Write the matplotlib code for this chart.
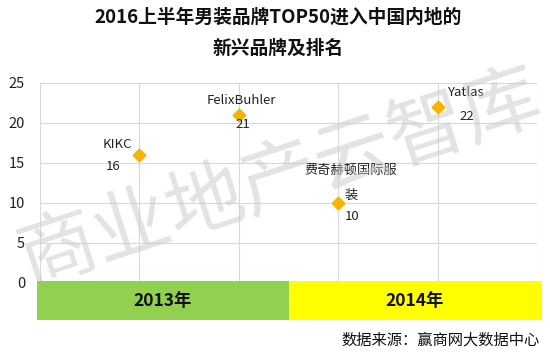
import matplotlib
matplotlib.use("Agg")
import matplotlib.pyplot as plt
from matplotlib.patches import Rectangle

plt.rcParams['font.family'] = ['Noto Sans CJK SC', 'DejaVu Sans']

brands = ["KIKC", "FelixBuhler", "费奇赫顿国际服\n装", "Yatlas"]
ranks = [16, 21, 10, 22]
xpos = [1, 2, 3, 4]
years = ["2013年", "2014年"]
yticks = [0, 5, 10, 15, 20, 25]

W, H = 550, 357
PT = 0.72  # points per pixel at dpi 100
fig = plt.figure(figsize=(W/100, H/100), dpi=100)
fig.patch.set_facecolor("white")

ax = fig.add_axes([40/W, 1-283/H, (537-40)/W, (283-83)/H])
ax.set_xlim(0, 5)
ax.set_ylim(0, 25)
ax.set_yticks(yticks)
ax.set_xticks(range(0, 6))
ax.set_xticklabels([])
ax.tick_params(axis='x', length=0)
ax.tick_params(axis='y', length=0, labelsize=10.5, pad=15*PT, colors='#222222')
for s in ax.spines.values():
    s.set_visible(False)
ax.grid(True, color='#d9d9d9', linewidth=0.8)
ax.set_axisbelow(True)

ax.scatter(xpos, ranks, marker='D', s=42, color='#F5B400', zorder=3)

# label offsets in pixels (dx, dy up)
name_off = [(-22, 11), (3, 15), (13, 33), (28, 14)]
val_off = [(-26, -12), (4, -9), (14, -14), (29, -10)]
fs = 9.5
for x, y, b, no, vo in zip(xpos, ranks, brands, name_off, val_off):
    if "\n" in b:
        first, second = b.split("\n")
        ax.annotate(first, (x, y), xytext=(no[0]*PT, no[1]*PT), textcoords='offset points',
                    ha='center', va='center', fontsize=fs, color='#222222')
        ax.annotate(second, (x, y), xytext=(13*PT, 8*PT), textcoords='offset points',
                    ha='center', va='center', fontsize=fs, color='#222222')
    else:
        ax.annotate(b, (x, y), xytext=(no[0]*PT, no[1]*PT), textcoords='offset points',
                    ha='center', va='center', fontsize=fs, color='#222222')
    ax.annotate(str(y), (x, y), xytext=(vo[0]*PT, vo[1]*PT), textcoords='offset points',
                ha='center', va='center', fontsize=fs, color='#222222')

# year bands
fig.patches.append(Rectangle((37/W, 1-320/H), (289-37)/W, 39/H, transform=fig.transFigure,
                             facecolor='#92D050', edgecolor='none', zorder=1))
fig.patches.append(Rectangle((289/W, 1-320/H), (542-289)/W, 39/H, transform=fig.transFigure,
                             facecolor='#FFFF00', edgecolor='none', zorder=1))
fig.text(163/W, 1-301/H, years[0], ha='center', va='center', fontsize=12.5, fontweight='bold', color='#111111')
fig.text(415/W, 1-301/H, years[1], ha='center', va='center', fontsize=12.5, fontweight='bold', color='#111111')

# title
fig.text(278/W, 1-17/H, "2016上半年男装品牌TOP50进入中国内地的", ha='center', va='center',
         fontsize=13.5, fontweight='bold', color='#111111')
fig.text(278/W, 1-48/H, "新兴品牌及排名", ha='center', va='center',
         fontsize=13.5, fontweight='bold', color='#111111')

# source
fig.text(540/W, 1-340/H, "数据来源：赢商网大数据中心", ha='right', va='center',
         fontsize=11, color='#111111')

# watermark
fig.text(280/W, 1-180/H, "商业地产云智库", ha='center', va='center', fontsize=56,
         rotation=18, color='#c8c8c8', alpha=0.5, zorder=0)

fig.savefig("out.png", dpi=100)
